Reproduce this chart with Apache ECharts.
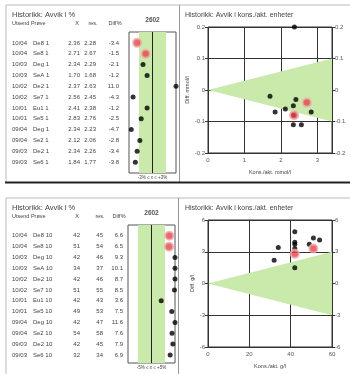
<!DOCTYPE html>
<html>
<head>
<meta charset="utf-8">
<script src="https://cdn.jsdelivr.net/npm/echarts@6/dist/echarts.min.js"></script>
<style>
  html, body { margin: 0; padding: 0; background: #fff; }
  #chart { width: 350px; height: 374px; }
</style>
</head>
<body>
<div id="chart"></div>
<script>
// rows shared by both panels
const dates = ["10/04", "10/04", "10/03", "10/03", "10/02", "10/02", "10/01", "10/01", "09/04", "09/04", "09/03", "09/03"];
const highlighted = [0, 1];

// top panel, mmol/l
const topSamples = ["De8 1", "Se8 1", "Deg 1", "SeA 1", "De2 1", "Se7 1", "Eu1 1", "Se5 1", "Deg 1", "Se2 1", "De2 1", "Se6 1"];
const topX = [2.36, 2.71, 2.34, 1.70, 2.37, 2.56, 2.41, 2.83, 2.34, 2.12, 2.34, 1.84];
const topRes = [2.28, 2.67, 2.29, 1.68, 2.63, 2.45, 2.38, 2.76, 2.23, 2.06, 2.26, 1.77];
const topDiffPct = [-3.4, -1.5, -2.1, -1.2, 11.0, -4.3, -1.2, -2.5, -4.7, -2.8, -3.4, -3.8];
const topDiff = [-0.08, -0.04, -0.05, -0.02, 0.26, -0.11, -0.03, -0.07, -0.11, -0.06, -0.08, -0.07];
const topBand = [-3, 3];
const topCone = [[0, 0], [3.4, 0.1], [3.4, -0.1]];
const topYTicks = [-0.2, 0.2, 0.1];
const topXTicks = [0, 3.4, 1];

// bottom panel, g/l
const botSamples = ["De8 10", "Se8 10", "Deg 10", "SeA 10", "De2 10", "Se7 10", "Eu1 10", "Se5 10", "Deg 10", "Se2 10", "De2 10", "Se6 10"];
const botX = [42, 51, 42, 34, 42, 51, 42, 49, 42, 54, 42, 32];
const botRes = [45, 54, 46, 37, 46, 55, 43, 53, 47, 58, 45, 34];
const botDiffPct = [6.6, 6.5, 9.3, 10.1, 8.7, 8.5, 3.6, 7.5, 11.6, 7.6, 7.9, 6.9];
const botDiff = [2.8, 3.3, 3.9, 3.4, 3.7, 4.3, 1.5, 3.7, 4.9, 4.1, 3.3, 2.2];
const botBand = [-5, 5];
const botCone = [[0, 0], [60, 3], [60, -3]];
const botYTicks = [-6, 6, 3];
const botXTicks = [0, 60, 20];

const FONT = "Liberation Sans, Arial, sans-serif";
const GREEN = "#c9eaaa";
const TXT = "#444";

const grid = [], xAxis = [], yAxis = [], series = [], graphic = [];

const clamp = (v, lo, hi) => Math.max(lo, Math.min(hi, v));

function text(x, y, s, size, align, extra) {
    graphic.push({
        type: "text", x: x, y: y, silent: true,
        style: Object.assign({ text: s, fontSize: size, fontFamily: FONT, fill: TXT, textAlign: align || "left", textVerticalAlign: "middle" }, extra || {})
    });
}
function line(x1, y1, x2, y2, color, w) {
    graphic.push({ type: "line", silent: true, shape: { x1, y1, x2, y2 }, style: { stroke: color, lineWidth: w } });
}

function addPanel(p) {
    // --- strip of Diff% ---
    const gS = grid.length;
    grid.push({ left: p.stripLeft, top: p.stripTop, width: 47, height: p.stripH, show: true, borderColor: "#555", borderWidth: 1 });
    const xS = xAxis.length;
    xAxis.push({
        gridIndex: gS, type: "value", min: -p.stripMax, max: p.stripMax,
        axisLine: { show: false }, axisTick: { show: false }, axisLabel: { show: false }, splitLine: { show: false }
    });
    const yS = yAxis.length;
    const fmt = (v) => p.decimals ? v.toFixed(p.decimals) : String(v);
    const cols = [
        { vals: dates, x: 12, align: "left" },
        { vals: p.samples, x: 33, align: "left" },
        { vals: p.xs.map(fmt), x: 80, align: "right" },
        { vals: p.res.map(fmt), x: p.resRight, align: "right" },
        { vals: p.pct.map((v) => v.toFixed(1)), x: p.pctRight, align: "right" }
    ];
    cols.forEach((c) => {
        yAxis.push({
            gridIndex: gS, type: "value", inverse: true, min: -1, max: p.rowMax, interval: 1,
            position: "left", offset: p.stripLeft - c.x,
            axisLine: { show: false }, axisTick: { show: false }, splitLine: { show: false },
            axisLabel: {
                margin: 0, align: c.align, fontSize: 6, color: TXT, fontFamily: FONT,
                formatter: (v) => { const s = c.vals[Math.round(v)]; return s === undefined ? "" : s; }
            }
        });
    });
    // acceptance band and centre line
    series.push({
        type: "custom", xAxisIndex: xS, yAxisIndex: yS, z: 1, silent: true, data: [p.band],
        renderItem: (params, api) => {
            const cs = params.coordSys;
            const x0 = api.coord([p.band[0], 0])[0];
            const x1 = api.coord([p.band[1], 0])[0];
            const xm = api.coord([0, 0])[0];
            return {
                type: "group", children: [
                    { type: "rect", shape: { x: x0, y: cs.y, width: x1 - x0, height: cs.height }, style: { fill: GREEN } },
                    { type: "line", shape: { x1: xm, y1: cs.y, x2: xm, y2: cs.y + cs.height }, style: { stroke: "#222", lineWidth: 1 } }
                ]
            };
        }
    });
    const stripPts = p.pct.map((v, i) => [clamp(v, -p.stripMax, p.stripMax), i]);
    series.push({
        type: "scatter", xAxisIndex: xS, yAxisIndex: yS, z: 3, symbolSize: 5, itemStyle: { color: "#000" },
        data: stripPts.filter((d, i) => highlighted.indexOf(i) < 0)
    });
    series.push({
        type: "scatter", xAxisIndex: xS, yAxisIndex: yS, z: 4, symbolSize: 8,
        itemStyle: { color: "#e0454a", borderColor: "#f3a9ab", borderWidth: 2 },
        data: stripPts.filter((d, i) => highlighted.indexOf(i) >= 0)
    });

    // --- scatter of deviation vs concentration ---
    const gC = grid.length;
    grid.push({ left: 208, top: p.scTop, width: 124, height: p.scH, show: true, borderColor: "#333", borderWidth: 1 });
    const xC = xAxis.length;
    xAxis.push({
        gridIndex: gC, type: "value", min: p.xTicks[0], max: p.xTicks[1], interval: p.xTicks[2],
        name: p.xName, nameLocation: "middle", nameGap: 16,
        nameTextStyle: { fontSize: 5.5, color: TXT, fontFamily: FONT },
        axisLine: { show: false },
        axisTick: { show: true, length: 3, lineStyle: { color: "#333" } },
        axisLabel: { fontSize: 6, color: "#555", fontFamily: FONT, margin: 4, showMaxLabel: p.showMaxX },
        splitLine: { show: true, lineStyle: { color: "#333", width: 1 } }
    });
    const yC = yAxis.length;
    const yCommon = {
        gridIndex: gC, type: "value", min: p.yTicks[0], max: p.yTicks[1], interval: p.yTicks[2],
        axisLine: { show: false },
        axisTick: { show: true, length: 3, lineStyle: { color: "#333" } },
        axisLabel: { fontSize: 6, color: "#555", fontFamily: FONT, margin: 3 }
    };
    yAxis.push(Object.assign({}, yCommon, {
        position: "left", name: p.yName, nameLocation: "middle", nameGap: p.yNameGap, nameRotate: 90,
        nameTextStyle: { fontSize: 5.5, color: TXT, fontFamily: FONT },
        splitLine: { show: true, lineStyle: { color: "#333", width: 1 } }
    }));
    yAxis.push(Object.assign({}, yCommon, { position: "right", splitLine: { show: false } }));

    series.push({
        type: "custom", xAxisIndex: xC, yAxisIndex: yC, z: 1, silent: true, data: p.cone,
        renderItem: (params, api) => {
            if (params.dataIndex !== 0) return null;
            return { type: "polygon", shape: { points: p.cone.map((pt) => api.coord(pt)) }, style: { fill: GREEN } };
        }
    });
    const scPts = p.xs.map((x, i) => [x, clamp(p.diff[i], p.yTicks[0], p.yTicks[1])]);
    series.push({
        type: "scatter", xAxisIndex: xC, yAxisIndex: yC, z: 3, symbolSize: 5, itemStyle: { color: "#000" },
        data: scPts.filter((d, i) => highlighted.indexOf(i) < 0)
    });
    series.push({
        type: "scatter", xAxisIndex: xC, yAxisIndex: yC, z: 4, symbolSize: 8,
        itemStyle: { color: "#e0454a", borderColor: "#f3a9ab", borderWidth: 2 },
        data: scPts.filter((d, i) => highlighted.indexOf(i) >= 0)
    });

    // --- texts ---
    const t = p.textTop;
    text(12, t, "Historikk: Avvik i %", 7.5);
    text(12, t + 8, "Utsend Prøve", 5.5);
    text(77, t + 8, "X", 5.5, "center");
    text(p.resRight - 3, t + 8, "res.", 5.5, "center");
    text(p.pctRight - 4, t + 8, "Diff%", 5.5, "center");
    text(p.stripLeft + 23.5, t + 5, "2602", 6.5, "center", { fontWeight: "bold", fill: "#555" });
    text(p.stripLeft + 23.5, p.stripTop + p.stripH + 5, p.bandLabel, 4.5, "center");
    text(185, t, "Historikk: Avvik i kons./akt. enheter", 7);
}

addPanel({
    stripLeft: 129, stripTop: 32, stripH: 141, stripMax: 5.2, rowMax: 12, band: topBand, bandLabel: "-3% ≤ x ≤ +3%",
    samples: topSamples, xs: topX, res: topRes, pct: topDiffPct, diff: topDiff, decimals: 2,
    resRight: 96, pctRight: 119,
    scTop: 27, scH: 126, xTicks: topXTicks, yTicks: topYTicks, showMaxX: false, cone: topCone,
    xName: "Kons./akt. mmol/l", yName: "Diff. mmol/l", yNameGap: 17, textTop: 15
});
addPanel({
    stripLeft: 128, stripTop: 225, stripH: 138, stripMax: 8.7, rowMax: 11.75, band: botBand, bandLabel: "-5% ≤ x ≤ +5%",
    samples: botSamples, xs: botX, res: botRes, pct: botDiffPct, diff: botDiff, decimals: 0,
    resRight: 103, pctRight: 123,
    scTop: 220, scH: 127, xTicks: botXTicks, yTicks: botYTicks, showMaxX: true, cone: botCone,
    xName: "Kons./akt. g/l", yName: "Diff. g/l", yNameGap: 13, textTop: 208
});

// panel frames
line(6, 5, 350, 5, "#bbb", 1);
line(6, 5, 6, 182, "#bbb", 1);
line(179.5, 5, 179.5, 182, "#999", 1);
line(5, 182.5, 350, 182.5, "#222", 2);
line(6, 198, 350, 198, "#bbb", 1);
line(6, 198, 6, 374, "#bbb", 1);
line(178.5, 198, 178.5, 374, "#999", 1);

const chart = echarts.init(document.getElementById("chart"), null, { renderer: "canvas" });
chart.setOption({
    animation: false,
    backgroundColor: "#fff",
    textStyle: { fontFamily: FONT },
    grid: grid,
    xAxis: xAxis,
    yAxis: yAxis,
    series: series,
    graphic: graphic
});
</script>
</body>
</html>
